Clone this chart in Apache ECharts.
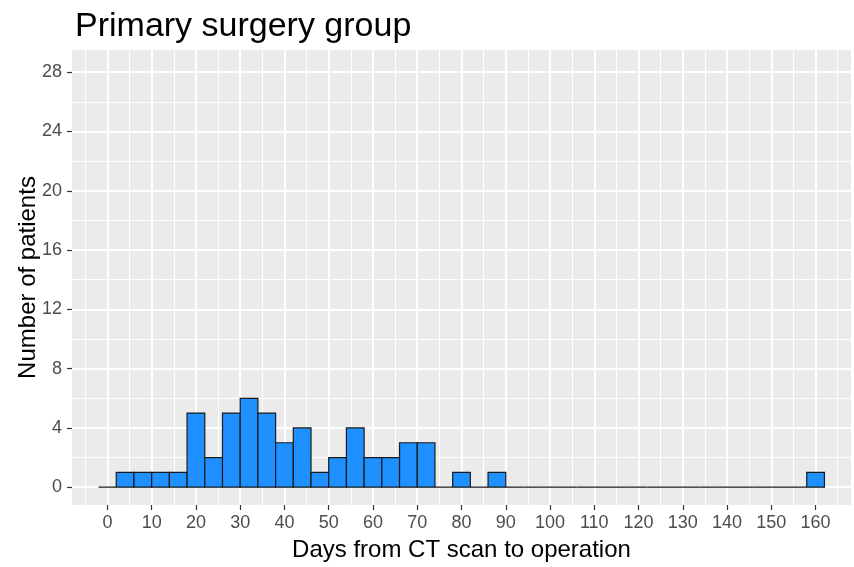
<!DOCTYPE html>
<html lang="en">
<head>
    <meta charset="UTF-8">
    <title>Primary surgery group</title>
    <script src="https://cdn.jsdelivr.net/npm/echarts@6/dist/echarts.min.js"></script>
    <style>
        html, body { margin: 0; padding: 0; background: #fff; }
    </style>
</head>
<body>

<div id="container" style="width: 854px; height: 567px"></div>
<script type="text/javascript">
    // histogram bins, 4 days wide
    var binStarts = [-2, 2, 6, 10, 14, 18, 22, 26, 30, 34, 38, 42, 46, 50, 54, 58, 62, 66, 70, 74,
        78, 82, 86, 90, 94, 98, 102, 106, 110, 114, 118, 122, 126, 130, 134, 138, 142, 146, 150, 154, 158];
    var counts = [0, 1, 1, 1, 1, 5, 2, 5, 6, 5, 3, 4, 1, 2, 4, 2, 2, 3, 3, 0,
        1, 0, 1, 0, 0, 0, 0, 0, 0, 0, 0, 0, 0, 0, 0, 0, 0, 0, 0, 0, 1];
    var binWidth = 4;

    // axis breaks
    var xMajor = [0, 10, 20, 30, 40, 50, 60, 70, 80, 90, 100, 110, 120, 130, 140, 150, 160];
    var xMinor = [-5, 5, 15, 25, 35, 45, 55, 65, 75, 85, 95, 105, 115, 125, 135, 145, 155, 165];
    var yMajor = [0, 4, 8, 12, 16, 20, 24, 28];
    var yMinor = [2, 6, 10, 14, 18, 22, 26];

    var histData = [];
    for (var i = 0; i < binStarts.length; i++) {
        histData.push([binStarts[i], binStarts[i] + binWidth, counts[i]]);
    }

    var font = 'Liberation Sans, Arial, sans-serif';
    var xMin = -8, xMax = 168, yMin = -1.2, yMax = 29.5;

    function renderBar(params, api) {
        var p0 = api.coord([api.value(0), api.value(2)]);
        var p1 = api.coord([api.value(1), 0]);
        return {
            type: 'rect',
            shape: { x: p0[0], y: p0[1], width: p1[0] - p0[0], height: p1[1] - p0[1] },
            style: { fill: '#1E90FF', stroke: '#1a1a1a', lineWidth: 1.2 }
        };
    }

    var dom = document.getElementById("container");
    var myChart = echarts.init(dom, null, { renderer: 'canvas' });
    var option = {
        animation: false,
        backgroundColor: '#ffffff',
        title: {
            text: 'Primary surgery group',
            left: 70,
            top: 5,
            textStyle: { fontFamily: font, fontSize: 34, fontWeight: 'normal', color: '#000' }
        },
        grid: {
            left: 72, right: 3, top: 50, bottom: 62,
            show: true, backgroundColor: '#EBEBEB', borderWidth: 0
        },
        xAxis: [
            {
                type: 'value', min: xMin, max: xMax, position: 'bottom',
                name: 'Days from CT scan to operation',
                nameLocation: 'middle', nameGap: 33,
                nameTextStyle: { fontFamily: font, fontSize: 24, color: '#000' },
                axisLine: { show: false, onZero: false },
                axisTick: { show: true, length: 5, customValues: xMajor, lineStyle: { color: '#333', width: 1.2 } },
                axisLabel: { customValues: xMajor, fontFamily: font, fontSize: 18, color: '#4D4D4D', margin: 9 },
                splitLine: { show: true, lineStyle: { color: '#fff', width: 2 } }
            },
            {
                type: 'value', min: xMin, max: xMax, position: 'bottom',
                axisLine: { show: false, onZero: false },
                axisTick: { show: false, customValues: xMinor },
                axisLabel: { show: false, customValues: xMinor },
                splitLine: { show: true, lineStyle: { color: '#fff', width: 1 } }
            }
        ],
        yAxis: [
            {
                type: 'value', min: yMin, max: yMax, position: 'left',
                name: 'Number of patients',
                nameLocation: 'middle', nameGap: 32, nameMoveOverlap: false,
                nameTextStyle: { fontFamily: font, fontSize: 24, color: '#000' },
                axisLine: { show: false, onZero: false },
                axisTick: { show: true, length: 5, customValues: yMajor, lineStyle: { color: '#333', width: 1.2 } },
                axisLabel: { customValues: yMajor, fontFamily: font, fontSize: 18, color: '#4D4D4D', margin: 10 },
                splitLine: { show: true, lineStyle: { color: '#fff', width: 2 } }
            },
            {
                type: 'value', min: yMin, max: yMax, position: 'left',
                axisLine: { show: false, onZero: false },
                axisTick: { show: false, customValues: yMinor },
                axisLabel: { show: false, customValues: yMinor },
                splitLine: { show: true, lineStyle: { color: '#fff', width: 1 } }
            }
        ],
        series: [
            {
                name: 'Patients',
                type: 'custom',
                xAxisIndex: 0,
                yAxisIndex: 0,
                renderItem: renderBar,
                encode: { x: [0, 1], y: 2 },
                data: histData,
                z: 5
            }
        ]
    };
    if (option && typeof option === "object") {
        myChart.setOption(option, true);
    }
</script>
</body>
</html>
